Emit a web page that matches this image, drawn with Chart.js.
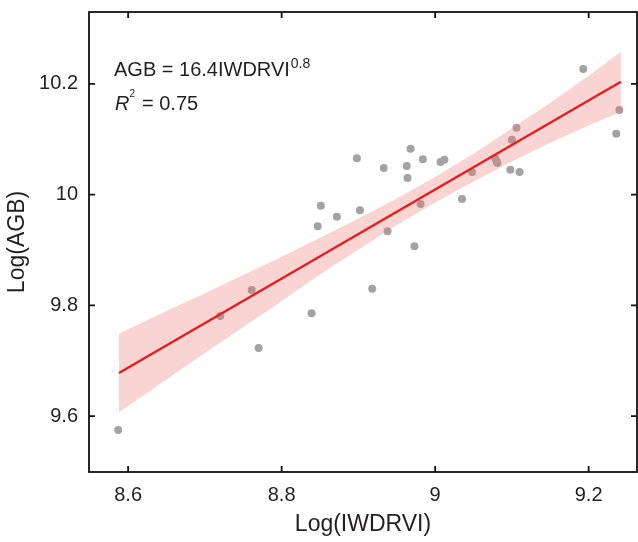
<!DOCTYPE html>
<html>
<head>
<meta charset="utf-8">
<script src="https://cdn.jsdelivr.net/npm/chart.js@4.4.1/dist/chart.umd.min.js"></script>
<style>
    html, body { margin: 0; padding: 0; background: #fff; }
    #wrap { width: 638px; height: 542px; }
</style>
</head>
<body>
<div id="wrap"><canvas id="agbChart" width="638" height="542"></canvas></div>
<script>
    const pointX = [8.587, 8.720, 8.761, 8.770, 8.839, 8.847, 8.851, 8.872, 8.898, 8.902,
        8.918, 8.933, 8.938, 8.963, 8.964, 8.968, 8.973, 8.981, 8.984, 9.007,
        9.012, 9.035, 9.048, 9.078, 9.080, 9.081, 9.098, 9.100, 9.106, 9.110,
        9.193, 9.236, 9.240];
    const pointY = [9.575, 9.781, 9.828, 9.723, 9.786, 9.943, 9.980, 9.960, 10.066, 9.972,
        9.830, 10.048, 9.934, 10.052, 10.030, 10.083, 9.907, 9.983, 10.064, 10.059,
        10.063, 9.992, 10.041, 10.066, 10.061, 10.057, 10.045, 10.099, 10.121, 10.041,
        10.227, 10.110, 10.153];

    // fitted line ends
    const fitX = [8.588, 9.242];
    const fitY = [9.678, 10.204];

    // confidence band
    const bandX = [8.588, 8.65, 8.70, 8.75, 8.80, 8.85, 8.90, 8.95, 9.00, 9.05, 9.10, 9.15, 9.20, 9.242];
    const bandUpper = [9.749, 9.790, 9.822, 9.855, 9.888, 9.922, 9.957, 9.993, 10.032, 10.074, 10.120, 10.166, 10.215, 10.258];
    const bandLower = [9.607, 9.666, 9.714, 9.761, 9.808, 9.856, 9.901, 9.945, 9.986, 10.024, 10.060, 10.094, 10.125, 10.150];

    const xTicks = [8.6, 8.8, 9, 9.2];
    const yTicks = [9.6, 9.8, 10, 10.2];

    const fontFamily = '"Liberation Sans", Arial, Helvetica, sans-serif';
    const textColor = '#231f20';

    const toXY = (xs, ys) => xs.map((x, i) => ({ x: x, y: ys[i] }));

    function noScalePadding(s) {
        s.paddingTop = 0;
        s.paddingBottom = 0;
        s.paddingLeft = 0;
        s.paddingRight = 0;
    }

    // box, inward ticks and equation text
    const framePlugin = {
        id: 'frame',
        afterDraw(chart) {
            const ctx = chart.ctx;
            const a = chart.chartArea;
            const xs = chart.scales.x;
            const ys = chart.scales.y;
            const tickLen = 6;
            ctx.save();
            ctx.strokeStyle = '#111';
            ctx.lineWidth = 1.8;
            ctx.strokeRect(a.left, a.top, a.right - a.left, a.bottom - a.top);
            ctx.beginPath();
            xTicks.forEach(v => {
                const px = xs.getPixelForValue(v);
                ctx.moveTo(px, a.bottom);
                ctx.lineTo(px, a.bottom - tickLen);
                ctx.moveTo(px, a.top);
                ctx.lineTo(px, a.top + tickLen);
            });
            yTicks.forEach(v => {
                const py = ys.getPixelForValue(v);
                ctx.moveTo(a.left, py);
                ctx.lineTo(a.left + tickLen, py);
                ctx.moveTo(a.right, py);
                ctx.lineTo(a.right - tickLen, py);
            });
            ctx.stroke();

            ctx.fillStyle = textColor;
            ctx.textBaseline = 'alphabetic';
            ctx.textAlign = 'left';
            ctx.font = '20px ' + fontFamily;
            const eq = 'AGB = 16.4IWDRVI';
            ctx.fillText(eq, 114, 76);
            const w = ctx.measureText(eq).width;
            ctx.font = '14px ' + fontFamily;
            ctx.fillText('0.8', 114 + w + 1, 68);

            ctx.font = 'italic 20px ' + fontFamily;
            ctx.fillText('R', 115, 110);
            const rw = ctx.measureText('R').width;
            ctx.font = '10px ' + fontFamily;
            ctx.fillText('2', 115 + rw + 0, 97);
            ctx.font = '20px ' + fontFamily;
            ctx.fillText('= 0.75', 142, 110);
            ctx.restore();
        }
    };

    new Chart(document.getElementById('agbChart'), {
        type: 'scatter',
        data: {
            datasets: [
                {
                    label: 'fit',
                    type: 'line',
                    data: toXY(fitX, fitY),
                    borderColor: '#e41e1e',
                    borderWidth: 2.4,
                    pointRadius: 0,
                    fill: false,
                    order: 0
                },
                {
                    label: 'upper',
                    type: 'line',
                    data: toXY(bandX, bandUpper),
                    borderWidth: 0,
                    borderColor: 'rgba(0,0,0,0)',
                    pointRadius: 0,
                    backgroundColor: 'rgba(238, 110, 110, 0.3)',
                    fill: '+1',
                    order: 1
                },
                {
                    label: 'lower',
                    type: 'line',
                    data: toXY(bandX, bandLower),
                    borderWidth: 0,
                    borderColor: 'rgba(0,0,0,0)',
                    pointRadius: 0,
                    fill: false,
                    order: 1
                },
                {
                    label: 'obs',
                    data: toXY(pointX, pointY),
                    backgroundColor: '#a3a3a3',
                    borderWidth: 0,
                    pointRadius: 4,
                    order: 2
                }
            ]
        },
        options: {
            responsive: false,
            animation: false,
            layout: { autoPadding: false, padding: { top: 12, right: 1, left: 0, bottom: 0 } },
            plugins: {
                legend: { display: false },
                tooltip: { enabled: false }
            },
            scales: {
                x: {
                    type: 'linear',
                    min: 8.549,
                    max: 9.263,
                    afterBuildTicks: s => { s.ticks = xTicks.map(v => ({ value: v })); },
                    afterFit: s => { s.height = 70; noScalePadding(s); },
                    grid: { display: false, drawTicks: false },
                    border: { display: false },
                    ticks: {
                        color: textColor,
                        padding: 11,
                        font: { family: fontFamily, size: 20 },
                        callback: v => String(v)
                    },
                    title: {
                        display: true,
                        text: 'Log(IWDRVI)',
                        color: textColor,
                        padding: { top: 4 },
                        font: { family: fontFamily, size: 23 }
                    }
                },
                y: {
                    type: 'linear',
                    min: 9.499,
                    max: 10.33,
                    afterBuildTicks: s => { s.ticks = yTicks.map(v => ({ value: v })); },
                    afterFit: s => { s.width = 89; noScalePadding(s); },
                    grid: { display: false, drawTicks: false },
                    border: { display: false },
                    ticks: {
                        color: textColor,
                        padding: 11,
                        font: { family: fontFamily, size: 20 },
                        callback: v => String(v)
                    },
                    title: {
                        display: true,
                        text: 'Log(AGB)',
                        color: textColor,
                        padding: { bottom: 4 },
                        font: { family: fontFamily, size: 23 }
                    }
                }
            }
        },
        plugins: [framePlugin]
    });
</script>
</body>
</html>
